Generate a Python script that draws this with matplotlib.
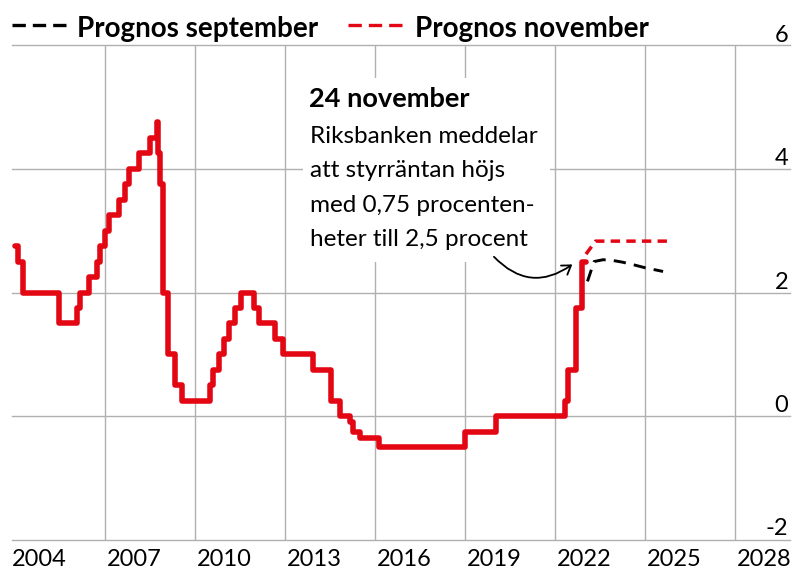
import matplotlib.pyplot as plt
from matplotlib.patches import Rectangle, FancyArrowPatch

plt.rcParams['font.family'] = ['Lato', 'DejaVu Sans']

# Styrräntan, steg (år som decimaltal)
rate_years = [2004.0, 2004.11, 2004.26, 2005.48, 2006.08, 2006.17, 2006.48, 2006.72,
              2006.83, 2007.0, 2007.14, 2007.48, 2007.67, 2007.81, 2008.14, 2008.5,
              2008.72, 2008.78, 2008.83, 2008.92, 2009.11, 2009.33, 2009.56, 2010.5,
              2010.61, 2010.81, 2010.97, 2011.14, 2011.33, 2011.52, 2011.97, 2012.14,
              2012.67, 2012.94, 2013.94, 2014.52, 2014.83, 2015.17, 2015.26, 2015.5,
              2016.14, 2018.99, 2020.03, 2022.33, 2022.44, 2022.7, 2022.89, 2023.03]
rate_values = [2.75, 2.5, 2.0, 1.5, 1.75, 2.0, 2.25, 2.5,
               2.75, 3.0, 3.25, 3.5, 3.75, 4.0, 4.25, 4.5,
               4.75, 4.25, 3.75, 2.0, 1.0, 0.5, 0.25, 0.5,
               0.75, 1.0, 1.25, 1.5, 1.75, 2.0, 1.75, 1.5,
               1.25, 1.0, 0.75, 0.25, 0.0, -0.1, -0.25, -0.35,
               -0.5, -0.25, 0.0, 0.25, 0.75, 1.75, 2.5, 2.5]

# Prognoser
sep_years = [2023.08, 2023.3, 2023.6, 2023.9, 2024.25, 2024.6, 2025.0, 2025.6]
sep_values = [2.18, 2.5, 2.53, 2.52, 2.49, 2.45, 2.40, 2.34]
nov_years = [2023.03, 2023.35, 2025.9]
nov_values = [2.62, 2.83, 2.83]

x_ticks = [2004, 2007, 2010, 2013, 2016, 2019, 2022, 2025, 2028]
y_ticks = [-2, 0, 2, 4, 6]

legend_labels = ["Prognos september", "Prognos november"]
note_title = "24 november"
note_lines = ["Riksbanken meddelar", "att styrräntan höjs",
              "med 0,75 procenten-", "heter till 2,5 procent"]

RED = "#e30613"
GRID = "#b0b0b0"

W, H = 792, 571
fig = plt.figure(figsize=(W / 100, H / 100), dpi=100)


def fx(x):
    return x / W


def fy(y):
    return 1 - y / H


ax = fig.add_axes([fx(12), fy(540), fx(790) - fx(12), fy(45) - fy(540)])
ax.set_xlim(2003.9, 2029.83)
ax.set_ylim(-2, 6)
ax.axis("off")

for yv in y_ticks:
    ax.axhline(yv, color=GRID, lw=1, zorder=1, clip_on=False)
for xv in x_ticks[1:]:
    ax.axvline(xv, color=GRID, lw=1, zorder=1)

ax.plot(rate_years, rate_values, color=RED, lw=4.0, drawstyle="steps-post",
        solid_joinstyle="round", solid_capstyle="round", zorder=3)
ax.plot(nov_years, nov_values, color=RED, lw=2.5, dashes=(2.7, 1.8), zorder=3)
ax.plot(sep_years, sep_values, color="black", lw=2.1, dashes=(4.2, 2.8), zorder=3)

# vit ruta bakom texten
ax.add_patch(Rectangle((fx(303), fy(262)), fx(550) - fx(303), fy(78) - fy(262),
                       transform=fig.transFigure, facecolor="white",
                       edgecolor="none", zorder=2))
fig.text(fx(309), fy(107), note_title, fontsize=19.5, fontweight="bold",
         va="baseline", ha="left", zorder=5)
for i, line in enumerate(note_lines):
    fig.text(fx(310), fy(143 + i * 34.3), line, fontsize=17.5,
             va="baseline", ha="left", zorder=5)

arrow = FancyArrowPatch((2019.9, 2.61), (2022.65, 2.48),
                        connectionstyle="arc3,rad=0.45",
                        arrowstyle="->,head_length=6,head_width=4",
                        color="black", lw=1.3, zorder=4)
ax.add_patch(arrow)

# förklaring
fig.add_artist(plt.Line2D([fx(12), fx(67)], [fy(25), fy(25)], color="black",
                          lw=2.4, dashes=(4.0, 2.1)))
fig.text(fx(77), fy(37), legend_labels[0], fontsize=20, fontweight="bold",
         va="baseline", ha="left")
fig.add_artist(plt.Line2D([fx(348), fx(403)], [fy(25), fy(25)], color=RED,
                          lw=2.4, dashes=(4.0, 2.1)))
fig.text(fx(415), fy(37), legend_labels[1], fontsize=20, fontweight="bold",
         va="baseline", ha="left")

# axeletiketter
for xv in x_ticks:
    px = 12 if xv == 2004 else 15 + (xv - 2004) * 30 + 2
    fig.text(fx(px), fy(549), str(xv), fontsize=17, va="top", ha="left")
for yv in y_ticks:
    py = 416 - yv * 61.67
    fig.text(fx(788), fy(py - 4), str(yv), fontsize=17, va="baseline", ha="right")

fig.savefig("out.png", dpi=100)
